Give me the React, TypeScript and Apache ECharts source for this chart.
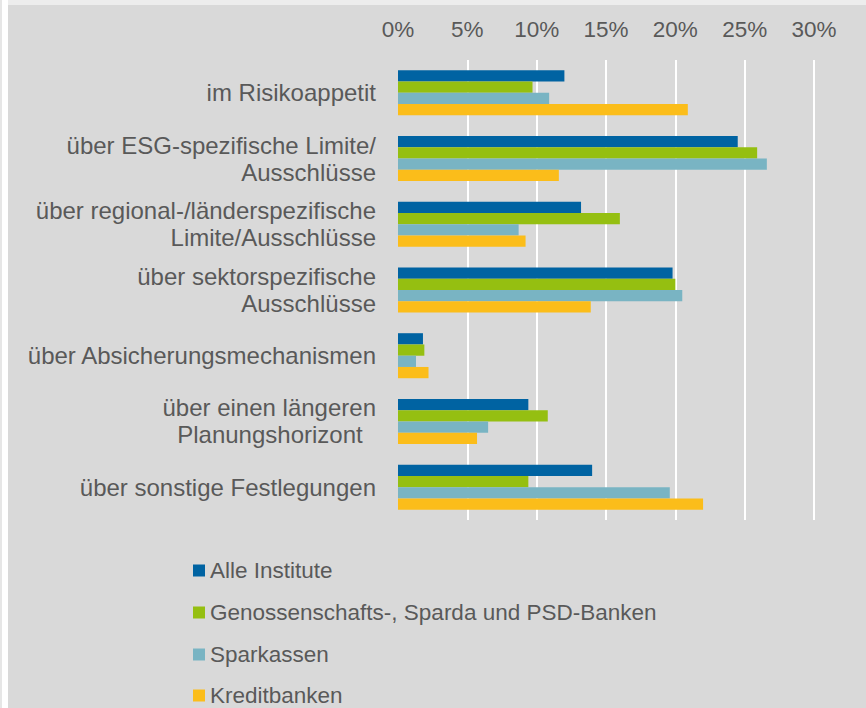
import React, { useEffect, useRef } from "react";
import * as echarts from "echarts";

const categories = [
  "im Risikoappetit",
  "über ESG-spezifische Limite/\nAusschlüsse",
  "über regional-/länderspezifische\nLimite/Ausschlüsse",
  "über sektorspezifische\nAusschlüsse",
  "über Absicherungsmechanismen",
  "über einen längeren\nPlanungshorizont  ",
  "über sonstige Festlegungen",
];

const seriesNames = [
  "Alle Institute",
  "Genossenschafts-, Sparda und PSD-Banken",
  "Sparkassen",
  "Kreditbanken",
];

const alleInstitute = [12.0, 24.5, 13.2, 19.8, 1.8, 9.4, 14.0];
const genossenschaften = [9.7, 25.9, 16.0, 20.0, 1.9, 10.8, 9.4];
const sparkassen = [10.9, 26.6, 8.7, 20.5, 1.3, 6.5, 19.6];
const kreditbanken = [20.9, 11.6, 9.2, 13.9, 2.2, 5.7, 22.0];

const seriesValues = [alleInstitute, genossenschaften, sparkassen, kreditbanken];
const colors = ["#0063A2", "#95BF11", "#79B4C3", "#FBBD1A"];
const legendTops = [559, 601, 643, 684];

const FONT = "'Liberation Sans', Arial, sans-serif";
const TEXT = "#595959";

export default function App() {
  const ref = useRef<HTMLDivElement>(null);
  useEffect(() => {
    if (!ref.current) return;
    const chart = echarts.init(ref.current, undefined, { renderer: "svg" });
    chart.setOption({
      animation: false,
      backgroundColor: "#D9D9D9",
      textStyle: { fontFamily: FONT },
      graphic: [
        { type: "rect", left: 0, top: 0, shape: { width: 2, height: 708 }, style: { fill: "#E6E6E6" }, z: 100 },
        { type: "rect", left: 2, top: 0, shape: { width: 6, height: 708 }, style: { fill: "#FFFFFF" }, z: 100 },
        { type: "rect", left: 8, top: 0, shape: { width: 858, height: 5 }, style: { fill: "#EDEDED" }, z: 100 },
      ],
      grid: { left: 398, right: 52, top: 60, height: 460, containLabel: false },
      legend: seriesNames.map((name, i) => ({
        orient: "vertical",
        left: 193,
        top: legendTops[i],
        padding: 0,
        itemWidth: 12,
        itemHeight: 12,
        itemStyle: { borderWidth: 0 },
        icon: "rect",
        textStyle: { fontSize: 22.5, color: TEXT, fontFamily: FONT, lineHeight: 22 },
        data: [name],
      })),
      xAxis: {
        type: "value",
        position: "top",
        min: 0,
        max: 30,
        interval: 5,
        axisLine: { show: false },
        axisTick: { show: false },
        axisLabel: { formatter: "{value}%", fontSize: 22.5, color: TEXT, fontFamily: FONT, margin: 19 },
        splitLine: { show: true, showMinLine: false, lineStyle: { color: "#FFFFFF", width: 2 } },
      },
      yAxis: {
        type: "category",
        inverse: true,
        data: categories,
        axisLine: { show: false },
        axisTick: { show: false },
        axisLabel: { fontSize: 24, color: TEXT, fontFamily: FONT, lineHeight: 27, margin: 22, align: "right" },
      },
      series: seriesNames.map((name, i) => ({
        name,
        type: "bar",
        data: seriesValues[i],
        barGap: "0%",
        barCategoryGap: "31.5%",
        itemStyle: { color: colors[i] },
      })),
    });
    return () => chart.dispose();
  }, []);
  return (
    <div style={{ position: "fixed", left: 0, top: 0, width: 866, height: 708 }}>
      <div ref={ref} style={{ width: 866, height: 708 }} />
    </div>
  );
}
